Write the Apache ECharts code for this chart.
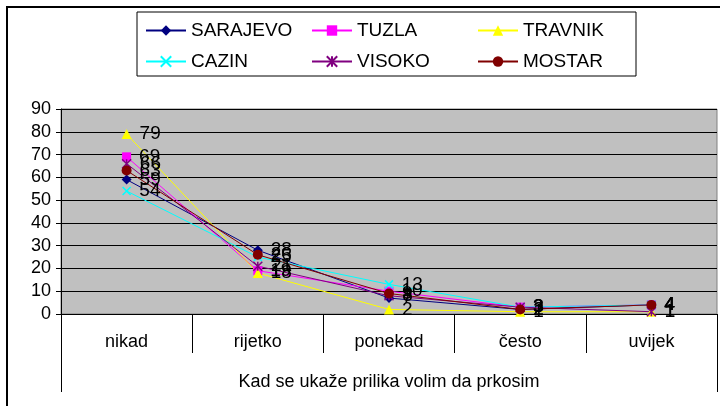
<!DOCTYPE html>
<html>
<head>
<meta charset="utf-8">
<title>Kad se ukaže prilika volim da prkosim</title>
<script src="https://cdn.jsdelivr.net/npm/echarts/dist/echarts.min.js"></script>
<style>
html,body{margin:0;padding:0;background:#fff;}
#main{width:720px;height:406px;}
</style>
</head>
<body>
<div id="main"></div>
<script>
// kategorije i vrijednosti
var categories = ['nikad', 'rijetko', 'ponekad', 'često', 'uvijek'];
var axisTitle = ['Kad se ukaže prilika volim da prkosim'];
var sarajevo = [59, 28, 7, 2, 4];
var tuzla = [69, 19, 10, 3, 4];
var travnik = [79, 18, 2, 1, 1];
var cazin = [54, 25, 13, 3, 4];
var visoko = [66, 21, 8, 3, 1];
var mostar = [63, 26, 9, 2, 4];

var FONT = '"Liberation Sans", Arial, sans-serif';

function makeSeries(name, data, color, symbol, size, stroke){
	return {
		name: name,
		type: 'line',
		data: data,
		symbol: symbol,
		symbolSize: size,
		lineStyle: {color: color, width: 1},
		itemStyle: stroke ? {color: color, borderColor: color, borderWidth: 1.5} : {color: color},
		label: {
			show: true,
			position: 'right',
			distance: 8,
			color: '#000',
			fontFamily: FONT,
			fontSize: 19
		},
		emphasis: {disabled: true},
		animation: false
	};
}

function showChart(){
	var myChart = echarts.init(document.getElementById('main'));
	var option = {
		backgroundColor: '#fff',
		textStyle: {fontFamily: FONT},
		graphic: [{
			type: 'rect',
			shape: {x: 7, y: 7, width: 730, height: 420},
			style: {fill: 'none', stroke: '#000', lineWidth: 2},
			z: -1
		}],
		legend: {
			left: 137,
			top: 12,
			width: 490,
			padding: [8, 3, 4, 8],
			itemWidth: 40,
			itemHeight: 13,
			itemGap: 10,
			borderColor: '#000',
			borderWidth: 1,
			textStyle: {fontFamily: FONT, fontSize: 19, color: '#000', width: 110, lineHeight: 21},
			data: ['SARAJEVO', 'TUZLA', 'TRAVNIK', 'CAZIN', 'VISOKO', 'MOSTAR']
		},
		grid: {
			left: 61,
			right: 3,
			top: 109,
			bottom: 92,
			show: true,
			backgroundColor: '#C0C0C0',
			borderColor: '#808080',
			borderWidth: 1
		},
		xAxis: [{
			type: 'category',
			data: categories,
			boundaryGap: true,
			axisLine: {show: true, lineStyle: {color: '#000', width: 1}},
			axisTick: {show: true, interval: 0, length: 39, lineStyle: {color: '#000', width: 1}},
			axisLabel: {margin: 19, color: '#000', fontSize: 18, fontFamily: FONT}
		}, {
			type: 'category',
			data: axisTitle,
			position: 'bottom',
			boundaryGap: true,
			axisLine: {show: false},
			axisTick: {show: true, interval: 0, length: 78, lineStyle: {color: '#000', width: 1}},
			axisLabel: {margin: 59, color: '#000', fontSize: 18, fontFamily: FONT}
		}],
		yAxis: {
			type: 'value',
			min: 0,
			max: 90,
			interval: 10,
			axisLine: {show: true, lineStyle: {color: '#000'}},
			axisTick: {show: true, length: 5, lineStyle: {color: '#000'}},
			axisLabel: {margin: 10, color: '#000', fontSize: 18, fontFamily: FONT},
			splitLine: {lineStyle: {color: '#000', width: 1}}
		},
		series: [
			makeSeries('SARAJEVO', sarajevo, '#000080', 'diamond', 10),
			makeSeries('TUZLA', tuzla, '#FF00FF', 'rect', 9),
			makeSeries('TRAVNIK', travnik, '#FFFF00', 'triangle', 10),
			makeSeries('CAZIN', cazin, '#00FFFF', 'path://M0,0L8,8M8,0L0,8', 8, true),
			makeSeries('VISOKO', visoko, '#800080', 'path://M0,0L8,8M8,0L0,8M4,0L4,8', 9, true),
			makeSeries('MOSTAR', mostar, '#800000', 'circle', 10)
		]
	};
	myChart.setOption(option);
}

showChart();
</script>
</body>
</html>
